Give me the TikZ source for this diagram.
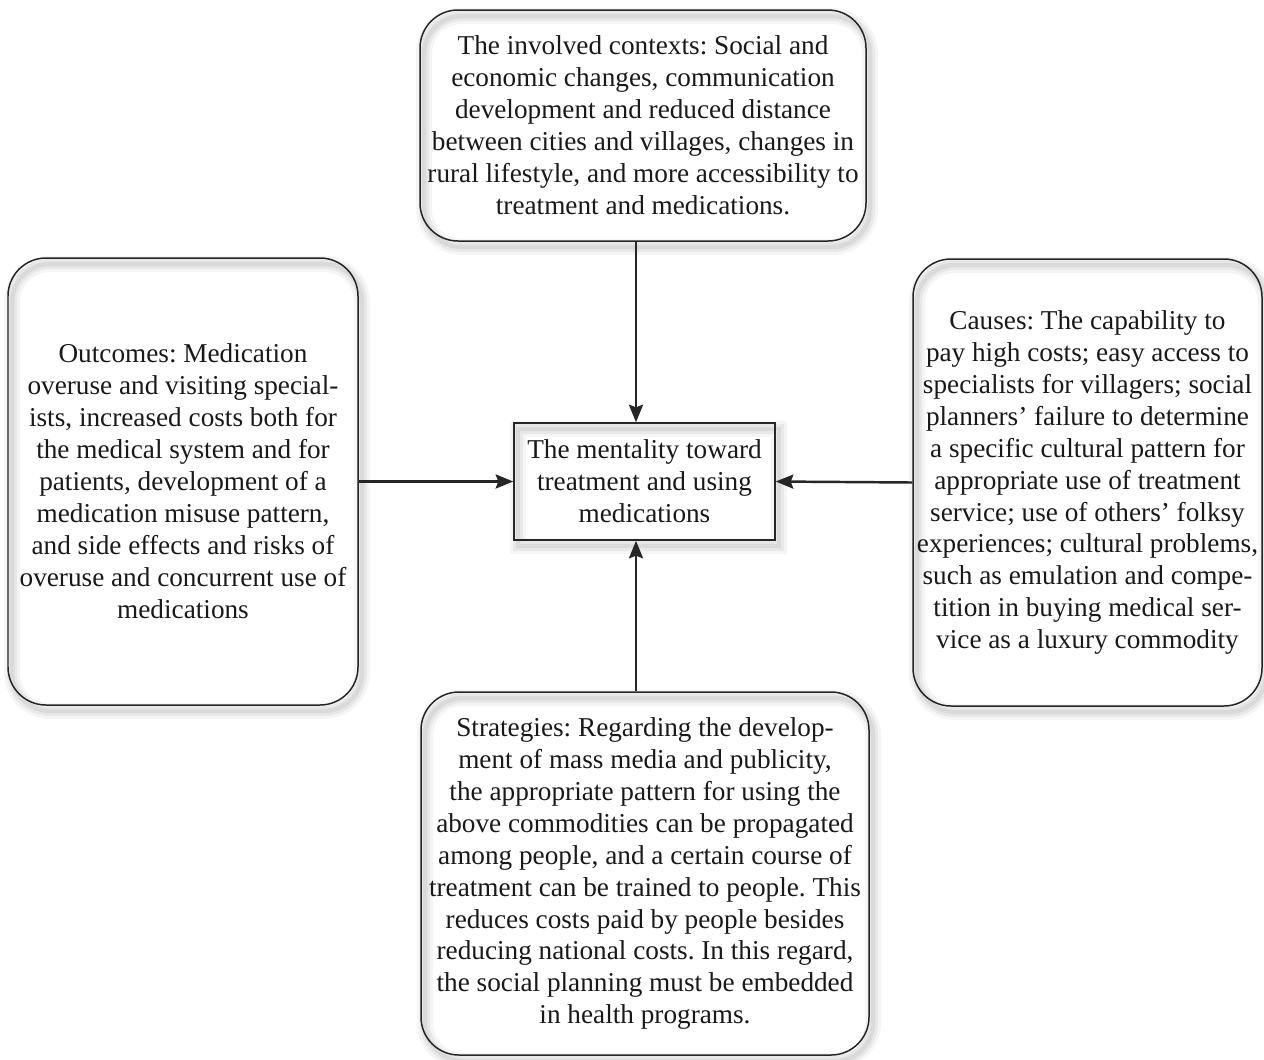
\documentclass[tikz,border=0pt]{standalone}
\usepackage{fontspec}
\setmainfont{Liberation Serif}
\frenchspacing
\usetikzlibrary{arrows.meta,shadows}
\tikzset{
  glow/.style={
    general shadow={shadow xshift=0.08cm, shadow yshift=-0.12cm, draw=black, draw opacity=0.04, line width=0.32cm},
    general shadow={shadow xshift=0.08cm, shadow yshift=-0.12cm, draw=black, draw opacity=0.05, line width=0.2cm},
    general shadow={shadow xshift=0.08cm, shadow yshift=-0.12cm, draw=black, draw opacity=0.06, line width=0.09cm}
  },
  roundbox/.style={glow, draw=black!85, line width=0.85pt, rounded corners=0.76cm, align=center,
    inner sep=0pt, font=\fontsize{15.5}{18.2}\selectfont\frenchspacing, text=black!90},
  centerbox/.style={glow, draw=black!85, line width=0.85pt, align=center, inner sep=0pt,
    font=\fontsize{15.5}{18.2}\selectfont\frenchspacing, text=black!90},
  arr/.style={draw=black!85, line width=1.4pt, -{Stealth[length=10pt,width=8pt,inset=1.5pt]}}
}
\begin{document}
\begin{tikzpicture}
\useasboundingbox (0,0) rectangle (25.28,-21.18);
\fill[white] (0,0) rectangle (25.28,-21.18);
\node[roundbox, minimum width=8.92cm, minimum height=4.62cm] (top) at (12.86,-2.51)
  {The involved contexts: Social and\\economic changes, communication\\development and reduced distance\\between cities and villages, changes in\\rural lifestyle, and more accessibility to\\treatment and medications.};
\node[roundbox, minimum width=7.0cm, minimum height=8.94cm] (left) at (3.66,-9.63)
  {Outcomes: Medication\\overuse and visiting special-\\ists, increased costs both for\\the medical system and for\\patients, development of a\\medication misuse pattern,\\and side effects and risks of\\overuse and concurrent use of\\medications};
\node[roundbox, minimum width=6.98cm, minimum height=8.94cm] (right) at (21.75,-9.65)
  {Causes: The capability to\\pay high costs; easy access to\\specialists for villagers; social\\planners’ failure to determine\\a specific cultural pattern for\\appropriate use of treatment\\service; use of others’ folksy\\experiences; cultural problems,\\such as emulation and compe-\\tition in buying medical ser-\\vice as a luxury commodity};
\node[roundbox, minimum width=8.96cm, minimum height=7.26cm] (bottom) at (12.9,-17.47)
  {Strategies: Regarding the develop-\\ment of mass media and publicity,\\the appropriate pattern for using the\\above commodities can be propagated\\among people, and a certain course of\\treatment can be trained to people. This\\reduces costs paid by people besides\\reducing national costs. In this regard,\\the social planning must be embedded\\in health programs.};
\node[centerbox, minimum width=5.22cm, minimum height=2.34cm] (center) at (12.89,-9.63)
  {The mentality toward\\treatment and using\\medications};
\coordinate (vx) at (12.72,0);
\draw[arr] (top.south -| vx) -- (center.north -| vx);
\draw[arr] (bottom.north -| vx) -- (center.south -| vx);
\draw[arr] (left.east) -- (center.west);
\draw[arr] (right.west) -- (center.east);
\end{tikzpicture}
\end{document}
